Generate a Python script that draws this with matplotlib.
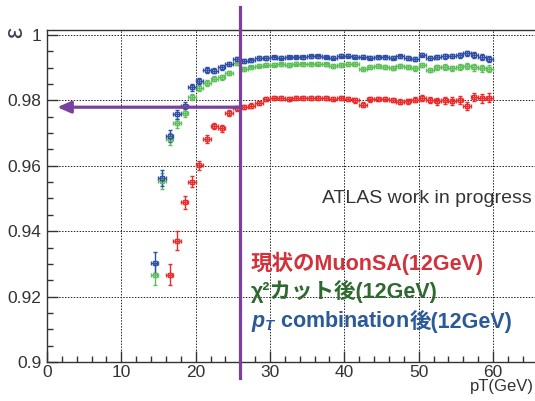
import numpy as np
import matplotlib
matplotlib.use("Agg")
from matplotlib import pyplot as plt

plt.rcParams['font.family'] = ['Liberation Sans', 'Noto Sans CJK JP', 'DejaVu Sans']
plt.rcParams['mathtext.fontset'] = 'custom'
plt.rcParams['mathtext.it'] = 'Liberation Sans:italic:bold'
plt.rcParams['mathtext.rm'] = 'Liberation Sans:bold'

# bin centres (1 GeV bins)
pt_bg = np.arange(14.5, 60.0, 1.0)
pt_red = np.arange(16.5, 60.0, 1.0)

eff_blue = [0.9303, 0.9562, 0.9691, 0.9757, 0.9783, 0.9840, 0.9860, 0.9893, 0.9891, 0.9901,
            0.9911, 0.9925, 0.9921, 0.9922, 0.9929, 0.9929,
            0.9931, 0.9930, 0.9933, 0.9933, 0.9931, 0.9934, 0.9934, 0.9932, 0.9930, 0.9937,
            0.9937, 0.9933, 0.9933, 0.9930, 0.9932, 0.9932, 0.9930, 0.9935, 0.9928, 0.9927,
            0.9940, 0.9928, 0.9932, 0.9934, 0.9935, 0.9938, 0.9944, 0.9938, 0.9933, 0.9926]
err_blue = [0.0032, 0.0025, 0.0018, 0.0013, 0.0011, 0.0010, 0.0009, 0.0008, 0.0008, 0.0007,
            0.0007, 0.0006, 0.0006, 0.0005, 0.0005, 0.0005,
            0.0004, 0.0004, 0.0004, 0.0004, 0.0004, 0.0004, 0.0004, 0.0004, 0.0004, 0.0004,
            0.0005, 0.0005, 0.0005, 0.0005, 0.0005, 0.0005, 0.0005, 0.0005, 0.0006, 0.0006,
            0.0006, 0.0006, 0.0007, 0.0007, 0.0007, 0.0008, 0.0008, 0.0009, 0.0009, 0.0010]

eff_green = [0.9267, 0.9553, 0.9681, 0.9730, 0.9760, 0.9810, 0.9837, 0.9853, 0.9866, 0.9870,
             0.9884, 0.9913, 0.9897, 0.9901, 0.9906, 0.9909,
             0.9909, 0.9910, 0.9908, 0.9912, 0.9910, 0.9910, 0.9912, 0.9910, 0.9905, 0.9908,
             0.9912, 0.9911, 0.9897, 0.9903, 0.9904, 0.9902, 0.9900, 0.9906, 0.9902, 0.9898,
             0.9908, 0.9893, 0.9901, 0.9902, 0.9898, 0.9902, 0.9904, 0.9901, 0.9898, 0.9897]
err_green = [0.0032, 0.0025, 0.0018, 0.0014, 0.0012, 0.0010, 0.0009, 0.0008, 0.0008, 0.0007,
             0.0007, 0.0006, 0.0006, 0.0005, 0.0005, 0.0005,
             0.0005, 0.0005, 0.0005, 0.0005, 0.0005, 0.0005, 0.0005, 0.0005, 0.0005, 0.0005,
             0.0006, 0.0006, 0.0006, 0.0006, 0.0006, 0.0006, 0.0006, 0.0006, 0.0007, 0.0007,
             0.0007, 0.0007, 0.0008, 0.0008, 0.0008, 0.0009, 0.0009, 0.0010, 0.0010, 0.0011]

eff_red = [0.9267, 0.9371, 0.9489, 0.9551, 0.9601, 0.9681, 0.9722, 0.9714, 0.9760, 0.9776,
           0.9780, 0.9784, 0.9793, 0.9805,
           0.9806, 0.9808, 0.9803, 0.9807, 0.9808, 0.9808, 0.9807, 0.9808, 0.9803, 0.9806,
           0.9805, 0.9800, 0.9787, 0.9803, 0.9804, 0.9804, 0.9801, 0.9796, 0.9797, 0.9802,
           0.9806, 0.9801, 0.9797, 0.9800, 0.9798, 0.9801, 0.9782, 0.9810, 0.9806, 0.9808]
err_red = [0.0032, 0.0028, 0.0020, 0.0017, 0.0015, 0.0012, 0.0010, 0.0010, 0.0009, 0.0008,
           0.0007, 0.0007, 0.0006, 0.0006,
           0.0006, 0.0006, 0.0006, 0.0006, 0.0006, 0.0006, 0.0006, 0.0006, 0.0006, 0.0006,
           0.0006, 0.0007, 0.0007, 0.0007, 0.0007, 0.0007, 0.0007, 0.0008, 0.0008, 0.0008,
           0.0009, 0.0009, 0.0010, 0.0010, 0.0011, 0.0011, 0.0012, 0.0013, 0.0013, 0.0013]

cut_pt = 26.0
arrow_eff = 0.9779

fig = plt.figure(figsize=(5.35, 4.01), dpi=100)
ax = fig.add_axes([47/535, 1 - 362/401, 66*7.433/535, 332/401])

def draw(x, y, e, c):
    ax.errorbar(x, y, yerr=e, xerr=0.5, fmt='s', ms=3.4, mfc='none', mec=c, mew=1.0,
                ecolor=c, elinewidth=1.0, capsize=1.6, capthick=1.0, color=c)

draw(pt_red, eff_red, err_red, '#ee2b2b')
draw(pt_bg, eff_green, err_green, '#5fbf5a')
draw(pt_bg, eff_blue, err_blue, '#3050a8')

ax.set_xlim(0, 66)
ax.set_ylim(0.9, 1.0015)
ax.set_xticks([0, 10, 20, 30, 40, 50, 60])
ax.set_xticks(np.arange(0, 66, 2), minor=True)
ax.set_yticks([0.9, 0.92, 0.94, 0.96, 0.98, 1.0])
ax.set_yticklabels(['0.9', '0.92', '0.94', '0.96', '0.98', '1'])
ax.set_yticks(np.arange(0.9, 1.0, 0.005), minor=True)
ax.tick_params(which='both', direction='in', colors='#333333', labelsize=12.5)
ax.tick_params(which='major', length=8, width=1)
ax.tick_params(which='minor', length=4, width=1)
ax.tick_params(axis='x', pad=2)
ax.tick_params(axis='y', pad=4)
ax.grid(True, which='major', color='#222222', linestyle=(0, (1.5, 1.5)), linewidth=0.7)
for s in ax.spines.values():
    s.set_color('#333333')
    s.set_linewidth(1.0)

# cut line and arrow
ax.plot([cut_pt, cut_pt], [0.8951, 1.0086], color='#7a40a0', lw=2.3, clip_on=False, zorder=5)
ax.annotate('', xy=(1.0, arrow_eff), xytext=(cut_pt, arrow_eff),
            arrowprops=dict(arrowstyle='-|>,head_length=0.8,head_width=0.35',
                            color='#7a40a0', lw=2.3), zorder=5)

ax.text(37.0, 0.950, 'ATLAS work in progress', fontsize=14, color='#333333', va='center')

fs = 15.5
ax.text(27.4, 0.9301, '現状のMuonSA(12GeV)', fontsize=fs, fontweight='bold',
        color='#d2323c', va='center')
ax.text(27.4, 0.9215, 'χ²カット後(12GeV)', fontsize=fs, fontweight='bold',
        color='#2e6a30', va='center')
t3 = ax.text(27.4, 0.9123, r'$p_T$ combination', fontsize=fs, fontweight='bold',
             color='#2a5a98', va='center')
ax.annotate('後(12GeV)', xy=(1, 0.5), xycoords=t3, xytext=(1, 0), textcoords='offset points',
            fontsize=fs, fontweight='bold', color='#2a5a98', va='center', ha='left')

fig.text(470/535, 1 - 386/401, 'pT(GeV)', fontsize=12, color='#333333', va='center')
fig.text(15/535, 1 - 32/401, 'ε', fontsize=18, color='#3a4050', rotation=90,
         ha='center', va='center')

fig.savefig('out.png', dpi=100)
